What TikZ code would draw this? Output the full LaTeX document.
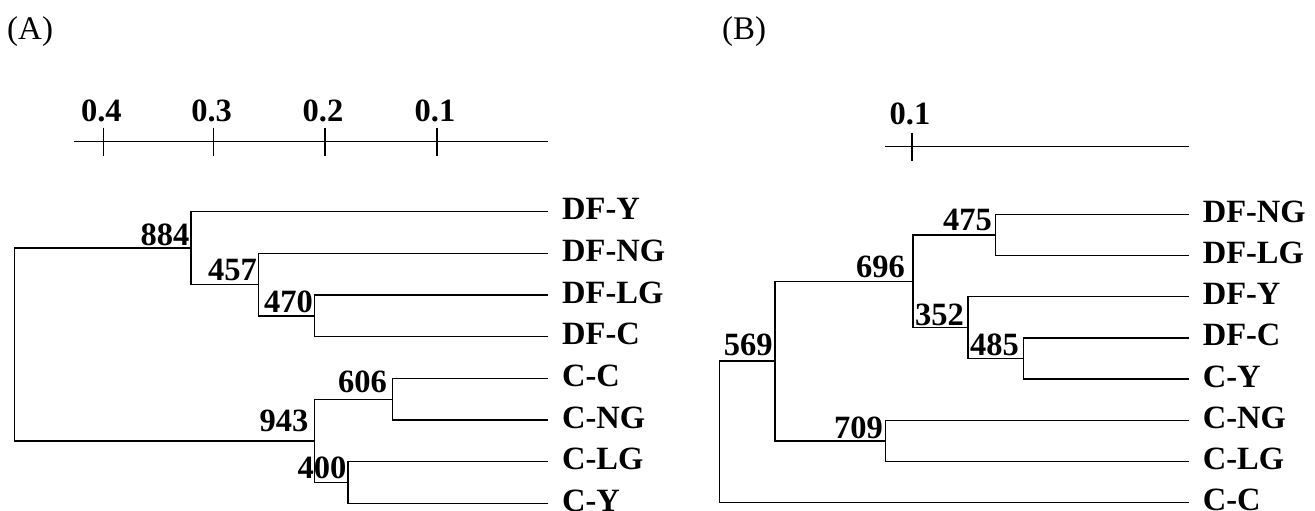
\documentclass[tikz,border=0pt]{standalone}
\usepackage{fontspec}
\setmainfont{Liberation Serif}
\begin{document}
\begin{tikzpicture}[x=1pt,y=-1pt,
  branch/.style={line width=1.4pt,line join=miter},
  taxon/.style={font=\bfseries\fontsize{32.5}{36}\selectfont,inner sep=0pt,anchor=base west},
  boot/.style={font=\bfseries\fontsize{32.5}{36}\selectfont,inner sep=0pt,anchor=base east},
  ticklab/.style={font=\bfseries\fontsize{32.5}{36}\selectfont,inner sep=0pt,anchor=base},
  panel/.style={font=\fontsize{33}{36}\selectfont,inner sep=0pt,anchor=base west}]
\useasboundingbox (0,0) rectangle (1315,511);

% ---------------- panel (A) ----------------
\node[panel] (labA) at (7,40) {(A)};

% scale bar
\coordinate (sa0) at (73.6,141.7);
\coordinate (sa1) at (548,141.7);
\draw[branch] (sa0) -- (sa1);
\foreach \x/\t/\n in {103.4/0.4/a4,213.6/0.3/a3,325/0.2/a2,437/0.1/a1}{
  \coordinate (t\n) at (\x,141.7);
  \draw[branch] ([yshift=14pt]t\n) -- ([yshift=-14pt]t\n);
  \node[ticklab] (l\n) at (\x-2,121.7) {\t};
}

% leaves
\foreach \nm/\yy/\t in {aDFY/211.7/DF-Y, aDFNG/253.4/DF-NG, aDFLG/295.0/DF-LG,
  aDFC/336.7/DF-C, aCC/378.4/C-C, aCNG/420.0/C-NG, aCLG/461.7/C-LG, aCY/503.3/C-Y}{
  \coordinate (\nm) at (548,\yy);
  \node[taxon] (\nm-lab) at (562,\yy+8) {\t};
}

% internal nodes
\coordinate (a470) at (314.7,315.85);
\coordinate (a457) at (258.5,284.6);
\coordinate (a884) at (191,248.15);
\coordinate (a606) at (392.3,399.2);
\coordinate (a400) at (347.9,482.5);
\coordinate (a943) at (314.7,440.85);
\coordinate (aroot) at (14.4,344.5);

\draw[branch] (aDFLG) -| (a470) |- (aDFC);
\draw[branch] (aDFNG) -| (a457) |- (a470);
\draw[branch] (aDFY) -| (a884) |- (a457);
\draw[branch] (aCC) -| (a606) |- (aCNG);
\draw[branch] (aCLG) -| (a400) |- (aCY);
\draw[branch] (a606) -| (a943) |- (a400);
\draw[branch] (a884) -| (aroot) |- (a943);

% bootstrap values
\node[boot] (b884) at (189.6,245) {884};
\node[boot] (b457) at (257,280) {457};
\node[boot] (b470) at (313,312.7) {470};
\node[boot] (b606) at (387,392.7) {606};
\node[boot] (b943) at (308.6,431.7) {943};
\node[boot] (b400) at (346.6,478.3) {400};

% ---------------- panel (B) ----------------
\node[panel] (labB) at (722,40) {(B)};

% scale bar
\coordinate (sb0) at (885,146.7);
\coordinate (sb1) at (1188.8,146.7);
\draw[branch] (sb0) -- (sb1);
\coordinate (tb1) at (912,146.7);
\draw[branch] ([yshift=14pt]tb1) -- ([yshift=-14pt]tb1);
\node[ticklab] (lb1) at (910,124.3) {0.1};

% leaves
\foreach \nm/\yy/\t in {bDFNG/214.3/DF-NG, bDFLG/255.5/DF-LG, bDFY/296.7/DF-Y,
  bDFC/337.9/DF-C, bCY/379.1/C-Y, bCNG/420.3/C-NG, bCLG/461.5/C-LG, bCC/502.7/C-C}{
  \coordinate (\nm) at (1188.8,\yy);
  \node[taxon] (\nm-lab) at (1202.6,\yy+8) {\t};
}

% internal nodes
\coordinate (b475) at (995.6,234.9);
\coordinate (b485) at (1023.2,358.5);
\coordinate (b352) at (968,327.6);
\coordinate (b696) at (912.9,281.25);
\coordinate (b709) at (885.3,440.9);
\coordinate (b569) at (774.9,361.1);
\coordinate (broot) at (719.7,431.9);

\draw[branch] (bDFNG) -| (b475) |- (bDFLG);
\draw[branch] (bDFC) -| (b485) |- (bCY);
\draw[branch] (bDFY) -| (b352) |- (b485);
\draw[branch] (b475) -| (b696) |- (b352);
\draw[branch] (bCNG) -| (b709) |- (bCLG);
\draw[branch] (b696) -| (b569) |- (b709);
\draw[branch] (b569) -| (broot) |- (bCC);

% bootstrap values
\node[boot] (v475) at (992,230) {475};
\node[boot] (v696) at (905,277.3) {696};
\node[boot] (v352) at (964,325) {352};
\node[boot] (v569) at (772.9,355) {569};
\node[boot] (v485) at (1019,355) {485};
\node[boot] (v709) at (883,438.3) {709};
\end{tikzpicture}
\end{document}
